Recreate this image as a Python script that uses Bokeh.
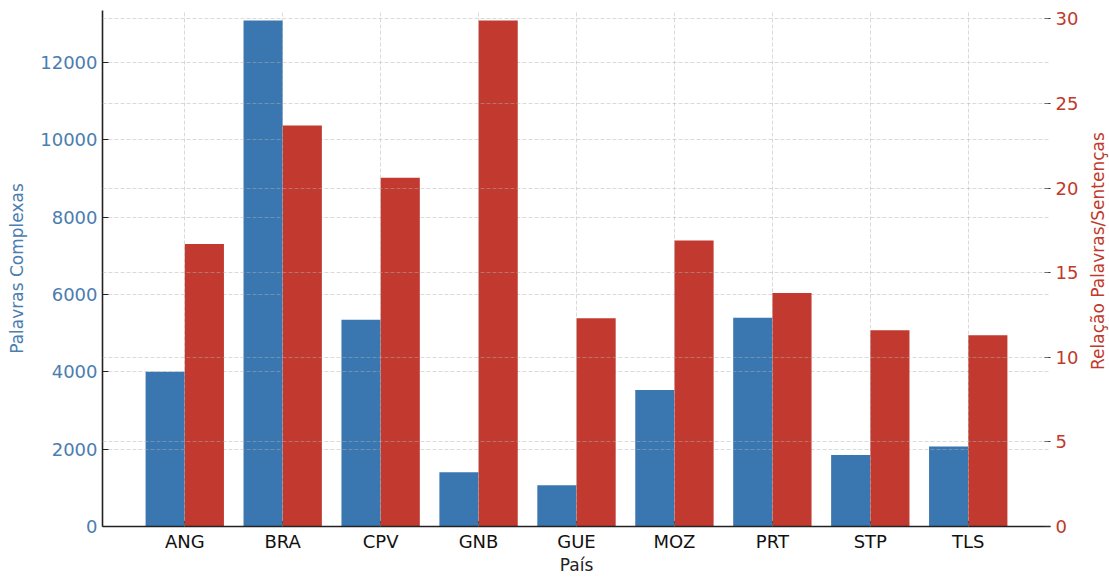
import math
from bokeh.plotting import figure
from bokeh.layouts import row
from bokeh.models import (Range1d, LinearAxis, Grid, FixedTicker, FactorRange,
                          ColumnDataSource, Label)
from bokeh.transform import dodge
from bokeh.embed import file_html
from bokeh.resources import INLINE

# ---- data ----
paises = ["ANG", "BRA", "CPV", "GNB", "GUE", "MOZ", "PRT", "STP", "TLS"]
palavras_complexas = [4000, 13090, 5350, 1400, 1070, 3530, 5400, 1850, 2070]
relacao_palavras_sentencas = [16.7, 23.7, 20.6, 29.9, 12.3, 16.9, 13.8, 11.6, 11.3]
left_ticks = [0, 2000, 4000, 6000, 8000, 10000, 12000]
right_ticks = [0, 5, 10, 15, 20, 25, 30]
x_title = "País"
left_title = "Palavras Complexas"
right_title = "Relação Palavras/Sentenças"

BLUE = "#3a76b0"
BLUE_TXT = "#4a7db0"
RED = "#c1392f"
RED_TXT = "#c0392b"
GRID = "#b0b0b0"
FONT = "DejaVu Sans"

W, H = 1109, 577
TITLE_W = 28                      # strip on the right holding the right-axis title
BL, BR, BT, BB = 102, 30, 10, 49

src = ColumnDataSource(dict(pais=paises, pc=palavras_complexas, rel=relacao_palavras_sentencas))

p = figure(width=W - TITLE_W, height=H,
           x_range=FactorRange(factors=paises, range_padding=0.34, range_padding_units="absolute"),
           y_range=Range1d(0, 13346),
           output_backend="svg", toolbar_location=None,
           min_border_left=BL, min_border_right=BR, min_border_top=BT, min_border_bottom=BB)
p.extra_y_ranges = {"right": Range1d(0, 30.49)}
p.outline_line_color = None
p.background_fill_color = "white"

# bars
blue = p.vbar(x=dodge("pais", -0.2, range=p.x_range), top="pc", width=0.4, source=src,
              fill_color=BLUE, line_color=None)
blue.level = "image"
red = p.vbar(x=dodge("pais", 0.2, range=p.x_range), top="rel", width=0.4, source=src,
             fill_color=RED, line_color=None, y_range_name="right")

# left axis
ly = p.yaxis[0]
ly.ticker = FixedTicker(ticks=left_ticks)
ly.axis_label = left_title
ly.axis_label_text_color = BLUE_TXT
ly.axis_label_text_font = FONT
ly.axis_label_text_font_size = "17px"
ly.axis_label_text_font_style = "normal"
ly.axis_label_standoff = 10
ly.major_label_text_color = BLUE_TXT
ly.major_label_text_font = FONT
ly.major_label_text_font_size = "18px"
ly.major_label_standoff = 5
ly.major_tick_in = 6
ly.major_tick_out = 0
ly.minor_tick_line_color = None
ly.axis_line_color = "#222222"
ly.axis_line_width = 1.6
ly.major_tick_line_color = "#222222"

# right axis
ry = LinearAxis(y_range_name="right", ticker=FixedTicker(ticks=right_ticks))
ry.major_label_text_color = RED_TXT
ry.major_label_text_font = FONT
ry.major_label_text_font_size = "18px"
ry.major_label_standoff = 5
ry.major_tick_in = 6
ry.major_tick_out = 0
ry.minor_tick_line_color = None
ry.axis_line_color = None
ry.major_tick_line_color = "#333333"
p.add_layout(ry, "right")

# x axis
xa = p.xaxis[0]
xa.axis_label = x_title
xa.axis_label_text_font = FONT
xa.axis_label_text_font_size = "17px"
xa.axis_label_text_font_style = "normal"
xa.axis_label_text_color = "#222222"
xa.axis_label_standoff = 0
xa.major_label_text_font = FONT
xa.major_label_text_font_size = "18px"
xa.major_label_text_color = "#111111"
xa.major_label_standoff = 4
xa.major_tick_in = 5
xa.major_tick_out = 0
xa.axis_line_color = "#222222"
xa.axis_line_width = 1.6
xa.major_tick_line_color = "#222222"

# grids
for g in (p.ygrid, p.xgrid):
    g.grid_line_color = GRID
    g.grid_line_alpha = 0.6
    g.grid_line_dash = "4 2"
    g.grid_line_width = 0.8
p.ygrid.level = "underlay"
p.xgrid.level = "overlay"

rgrid = Grid(dimension=1, axis=ry, ticker=FixedTicker(ticks=right_ticks), y_range_name="right",
             grid_line_color=GRID, grid_line_alpha=0.6, grid_line_dash="4 2", grid_line_width=0.8,
             level="overlay")
p.add_layout(rgrid)

# right-axis title strip (reads bottom-to-top, like the reference)
t = figure(width=TITLE_W, height=H, x_range=Range1d(0, 1), y_range=Range1d(0, H),
           output_backend="svg", toolbar_location=None, min_border=0,
           x_axis_location=None, y_axis_location=None)
t.grid.visible = False
t.outline_line_color = None
t.add_layout(Label(x=0.6, y=H - (BT + (H - BT - BB) / 2), text=right_title, angle=math.pi / 2,
                   text_align="center", text_baseline="middle", text_font=FONT,
                   text_font_size="17px", text_color=RED_TXT))

layout = row(p, t, spacing=0)
open("out.html", "w").write(file_html(layout, INLINE))
